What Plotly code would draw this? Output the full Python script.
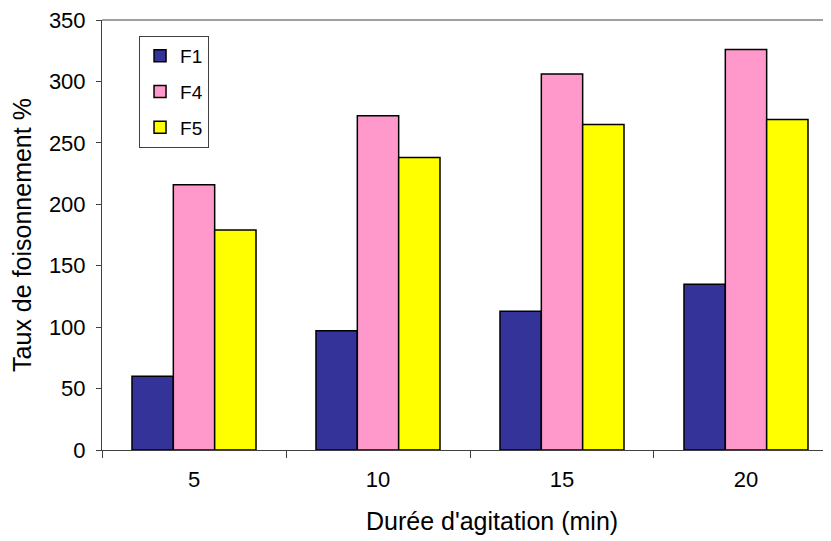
import plotly.graph_objects as go

categories = ["5", "10", "15", "20"]
f1 = [60, 97, 113, 135]
f4 = [216, 272, 306, 326]
f5 = [179, 238, 265, 269]

series = [("F1", f1, "#333399"), ("F4", f4, "#FF99CC"), ("F5", f5, "#FFFF00")]

fig = go.Figure()
for name, vals, col in series:
    fig.add_trace(go.Bar(
        x=categories, y=vals, name=name, legendgroup=name,
        marker=dict(color=col, line=dict(color="black", width=1.5)),
    ))

font = "Liberation Sans, Arial, sans-serif"
fig.update_layout(
    width=823, height=533,
    margin=dict(l=94, r=0, t=12, b=91),
    paper_bgcolor="white", plot_bgcolor="white",
    barmode="group", bargap=0.326, bargroupgap=0,
    font=dict(family=font, size=22, color="black"),
    showlegend=True,
    legend=dict(
        x=0.0508, y=0.963, xanchor="left", yanchor="top",
        bgcolor="white", bordercolor="#404040", borderwidth=1,
        font=dict(size=19), tracegroupgap=8,
        traceorder="grouped",
    ),
    xaxis=dict(
        type="category", range=[-0.5, 3.462],
        showline=True, linecolor="#404040", linewidth=1, mirror=False,
        ticks="outside", tickson="boundaries", ticklen=7, tickcolor="#404040",
        showgrid=False, tickfont=dict(size=22), ticklabelstandoff=10,
    ),
    yaxis=dict(
        range=[0, 350], dtick=50,
        showline=True, linecolor="#404040", linewidth=1,
        ticks="outside", ticklen=5, tickcolor="#404040",
        showgrid=False, zeroline=False, tickfont=dict(size=22), ticklabelstandoff=6,
        ticklabeloverflow="allow",
        title=dict(text="Taux de foisonnement %", font=dict(size=25), standoff=12),
    ),
    annotations=[dict(
        text="Durée d'agitation (min)", xref="paper", yref="paper",
        x=(492 - 102) / 729, y=0, xanchor="center", yanchor="top",
        yshift=-55, showarrow=False, font=dict(size=25),
    )],
    shapes=[dict(type="line", xref="paper", yref="paper", x0=0, x1=1, y0=1, y1=1,
                 line=dict(color="#404040", width=1))],
)

fig.write_html("out.html")
